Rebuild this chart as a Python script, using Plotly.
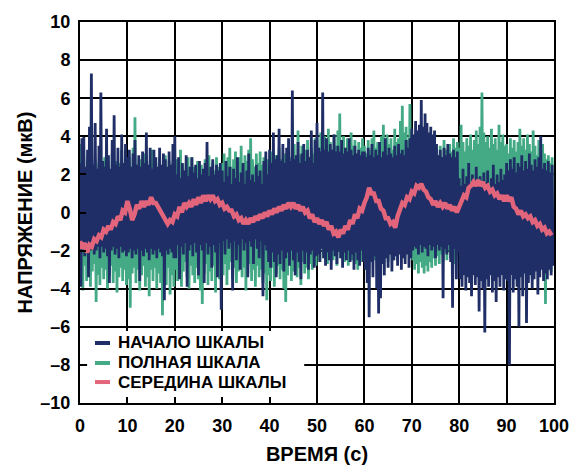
import numpy as np
import plotly.graph_objects as go

# ---------------- data ----------------
# НАЧАЛО ШКАЛЫ (zero scale), 500 samples, dt = 0.2 s (one row = 10 s)
zero_scale = [
    2.6, -3.9, 3.9, -1.9, 4.0, -2.3, 2.4, -1.8, 3.3, -3.4, 4.5, -2.0, 7.3, -1.9, 2.5, -2.2, 4.7, -2.0, 2.3, -1.8, 3.5, -2.4, 6.3, -1.8, 2.7, -2.1, 2.4, -1.9, 4.4, -2.3, 3.0, -3.7, 2.3, -2.0, 3.8, -1.8, 5.1, -2.2, 2.5, -1.9, 3.4, -2.4, 2.4, -1.8, 4.1, -2.1, 2.6, -2.0, 3.6, -2.3,
    2.9, -2.1, 3.3, -1.9, 2.4, -2.4, 3.1, -2.0, 3.8, -2.2, 2.5, -1.9, 3.0, -3.6, 2.4, -2.0, 3.2, -2.3, 2.6, -1.9, 4.2, -2.1, 2.5, -2.5, 3.4, -1.9, 2.3, -2.2, 3.3, -2.0, 2.9, -2.4, 2.4, -1.9, 3.4, -2.1, 2.5, -2.3, 3.1, -4.6, 2.8, -2.0, 2.4, -2.2, 3.2, -1.9, 2.5, -2.1, 3.6, -2.4,
    4.0, -2.4, 2.0, -1.7, 2.9, -3.5, 1.8, -1.8, 2.6, -2.2, 2.2, -1.6, 3.0, -3.9, 1.9, -2.0, 2.4, -1.7, 2.9, -2.3, 2.1, -1.6, 2.5, -2.1, 1.8, -3.3, 2.7, -1.7, 2.0, -2.0, 2.3, -3.7, 2.6, -1.6, 3.7, -2.2, 1.9, -1.8, 2.4, -2.9, 2.8, -1.7, 2.0, -2.1, 2.5, -3.4, 2.2, -1.6, 2.6, -5.1,
    2.2, -1.5, 1.6, -2.2, 2.7, -1.4, 1.9, -1.9, 2.4, -1.6, 1.5, -4.1, 2.3, -1.5, 1.8, -2.5, 2.9, -1.7, 1.6, -3.0, 2.1, -1.4, 2.6, -2.0, 1.5, -1.6, 2.2, -3.4, 3.1, -1.5, 1.7, -1.8, 2.0, -2.7, 1.6, -1.4, 2.5, -1.9, 1.9, -2.4, 2.2, -1.5, 1.5, -4.4, 2.7, -1.7, 3.2, -2.0, 2.0, -2.6,
    3.3, -2.9, 2.6, -2.1, 4.2, -2.6, 2.8, -3.4, 3.0, -2.2, 4.4, -2.7, 2.7, -2.0, 3.6, -3.1, 2.6, -2.4, 3.4, -2.1, 3.9, -2.8, 2.7, -2.0, 6.4, -2.5, 2.8, -3.3, 3.0, -2.1, 3.7, -2.6, 2.6, -3.5, 3.1, -2.0, 3.6, -2.7, 2.7, -2.1, 3.3, -3.0, 2.9, -2.2, 4.3, -2.0, 2.6, -2.9, 3.8, -2.3,
    4.7, -2.2, 3.4, -2.6, 3.2, -1.9, 6.3, -2.4, 3.3, -2.8, 3.9, -2.1, 3.2, -2.5, 3.6, -3.0, 3.3, -2.0, 4.1, -2.3, 3.2, -2.7, 3.5, -2.0, 3.2, -2.4, 3.8, -2.9, 3.1, -2.1, 3.4, -2.5, 3.2, -2.0, 3.9, -2.6, 3.3, -2.2, 3.0, -3.0, 3.5, -2.1, 3.1, -2.5, 3.3, -2.8, 3.0, -2.0, 3.2, -2.6,
    3.2, -3.0, 2.9, -3.7, 3.4, -5.5, 3.0, -2.6, 3.6, -3.4, 2.9, -2.3, 3.3, -4.0, 3.0, -5.3, 3.7, -4.5, 2.9, -2.7, 3.2, -3.3, 3.9, -2.4, 3.0, -2.9, 3.4, -2.2, 3.1, -3.1, 2.9, -2.5, 3.5, -2.3, 3.0, -2.8, 3.6, -2.2, 3.1, -3.0, 3.3, -2.4, 3.0, -2.7, 3.8, -2.2, 3.4, -2.9, 3.9, -2.4,
    4.4, -2.0, 4.1, -1.8, 4.8, -1.9, 4.3, -2.2, 4.6, -1.7, 5.9, -2.1, 4.5, -1.8, 5.2, -1.9, 4.7, -2.3, 4.2, -1.7, 4.5, -2.0, 4.1, -1.8, 4.3, -2.4, 3.6, -1.7, 3.0, -2.0, 3.3, -1.8, 2.9, -4.5, 3.4, -1.9, 3.0, -2.2, 3.6, -1.7, 3.1, -2.6, 2.9, -5.0, 3.3, -1.9, 2.9, -3.5, 3.2, -2.1,
    1.8, -3.5, 1.4, -3.9, 2.3, -3.3, 1.5, -4.1, 1.9, -3.4, 2.6, -3.7, 1.4, -4.4, 2.0, -3.3, 1.6, -3.8, 2.4, -3.4, 1.5, -5.2, 1.9, -3.6, 1.3, -4.0, 2.1, -6.3, 1.6, -3.5, 2.2, -3.9, 1.4, -3.3, 1.8, -4.2, 2.5, -3.6, 1.5, -4.7, 2.0, -3.4, 1.6, -3.9, 2.3, -3.3, 1.7, -4.1, 2.0, -3.5,
    2.6, -3.6, 2.2, -8.0, 2.8, -3.3, 2.3, -4.2, 2.9, -3.5, 2.1, -3.9, 2.6, -6.0, 2.4, -3.4, 3.0, -4.4, 2.2, -3.2, 2.7, -5.8, 2.3, -3.7, 3.1, -3.3, 2.5, -4.0, 2.2, -3.5, 2.8, -3.1, 2.4, -4.3, 2.9, -3.4, 4.0, -3.0, 2.3, -3.6, 2.6, -3.2, 2.2, -3.5, 2.7, -3.0, 2.1, -3.3, 2.5, -2.8,
]

# ПОЛНАЯ ШКАЛА (full scale), 500 samples, dt = 0.2 s (one row = 10 s)
full_scale = [
    3.6, -3.2, 2.4, -4.1, 3.0, -2.8, 2.2, -3.6, 2.7, -2.9, 1.9, -3.9, 2.5, -3.1, 2.0, -2.7, 2.8, -4.7, 2.1, -3.3, 2.6, -3.8, 1.8, -2.9, 2.4, -3.5, 2.9, -3.0, 2.0, -4.0, 2.5, -3.3, 1.9, -2.8, 3.1, -3.7, 2.2, -3.1, 2.7, -4.2, 2.0, -3.4, 2.6, -2.9, 3.3, -3.6, 2.1, -3.0, 2.8, -3.8,
    2.3, -3.5, 2.9, -5.0, 2.2, -3.2, 3.4, -2.9, 5.0, -3.7, 2.5, -3.0, 2.0, -4.1, 2.8, -3.3, 2.2, -2.8, 3.1, -3.9, 2.4, -3.4, 2.0, -4.4, 2.7, -3.0, 3.3, -3.6, 2.1, -2.9, 2.6, -4.0, 2.2, -3.2, 2.9, -3.7, 2.0, -5.4, 2.5, -3.1, 3.0, -3.8, 2.3, -2.9, 2.7, -4.3, 2.1, -3.3, 2.6, -3.9,
    2.4, -3.0, 2.8, -3.6, 2.2, -2.7, 3.3, -3.9, 2.5, -3.1, 2.0, -2.6, 2.6, -3.4, 2.9, -4.0, 2.1, -2.8, 2.9, -3.3, 2.4, -3.7, 1.9, -2.9, 2.7, -3.5, 2.2, -4.1, 2.5, -4.8, 2.0, -3.2, 2.8, -2.7, 2.3, -3.8, 3.0, -3.1, 2.1, -3.6, 2.6, -2.8, 2.2, -4.2, 2.9, -3.0, 2.4, -3.5, 2.0, -2.9,
    2.6, -3.3, 3.1, -2.7, 2.2, -3.8, 2.9, -3.0, 3.4, -2.6, 2.4, -3.5, 2.8, -2.9, 3.2, -3.7, 2.3, -3.1, 2.9, -2.8, 3.5, -3.4, 2.5, -2.9, 3.0, -4.1, 2.7, -3.2, 3.3, -2.7, 3.9, -3.6, 2.8, -3.0, 2.4, -3.9, 3.1, -2.8, 2.6, -3.4, 3.2, -3.0, 2.5, -3.7, 2.9, -3.2, 2.3, -4.6, 2.8, -3.3,
    2.7, -3.6, 3.2, -2.9, 2.4, -3.9, 3.0, -3.2, 2.6, -2.8, 3.4, -3.5, 2.8, -3.0, 2.3, -4.0, 3.1, -4.7, 2.6, -3.3, 3.3, -2.7, 2.9, -3.6, 2.5, -3.1, 3.6, -2.8, 2.8, -3.4, 4.3, -2.9, 3.0, -3.8, 3.5, -2.6, 2.7, -3.2, 3.3, -2.9, 3.8, -3.5, 2.9, -2.7, 3.4, -3.0, 3.1, -2.4, 3.9, -2.8,
    3.9, -2.1, 3.4, -2.6, 4.2, -1.9, 3.6, -2.4, 4.0, -2.0, 3.3, -2.7, 4.4, -2.2, 3.7, -1.8, 3.2, -2.5, 4.1, -2.1, 3.5, -2.8, 4.3, -2.0, 5.2, -2.4, 3.6, -1.9, 4.0, -2.6, 3.4, -2.2, 3.9, -2.8, 3.2, -2.0, 4.2, -2.5, 3.5, -2.3, 3.8, -2.7, 3.1, -3.0, 3.7, -2.1, 3.4, -2.6, 3.9, -2.2,
    3.5, -2.4, 3.1, -2.8, 3.8, -2.2, 3.3, -2.6, 3.9, -2.0, 4.3, -2.5, 3.4, -2.1, 3.7, -2.7, 3.2, -2.3, 4.0, -1.9, 4.6, -2.4, 3.5, -2.0, 4.1, -2.6, 3.6, -2.2, 3.9, -1.8, 3.3, -2.5, 4.4, -2.1, 3.7, -2.5, 3.9, -2.0, 4.8, -1.7, 5.6, -2.2, 4.2, -1.6, 4.5, -2.0, 3.8, -1.5, 5.7, -1.9,
    3.8, -2.5, 3.2, -3.0, 4.0, -2.7, 3.5, -3.2, 3.9, -2.6, 3.3, -2.9, 4.2, -3.2, 3.6, -2.8, 3.1, -3.1, 3.7, -2.6, 3.4, -2.9, 3.9, -2.4, 3.2, -2.8, 3.6, -2.3, 3.0, -2.7, 3.5, -2.2, 2.9, -2.6, 3.8, -2.1, 3.3, -2.5, 3.0, -2.0, 3.6, -2.4, 3.2, -2.1, 3.9, -2.7, 3.4, -2.2, 3.7, -1.9,
    3.4, -1.2, 4.6, -0.8, 3.7, -1.5, 3.2, -1.0, 3.9, -1.8, 3.5, -0.9, 4.1, -1.4, 3.3, -2.4, 3.8, -1.1, 4.3, -1.6, 3.6, -0.7, 4.5, -1.3, 6.3, -1.0, 4.2, -1.7, 3.7, -1.2, 4.0, -0.9, 3.4, -1.5, 4.4, -1.1, 3.6, -1.8, 3.9, -0.8, 3.3, -1.4, 4.6, -1.0, 3.7, -1.6, 4.1, -1.2, 3.5, -1.9,
    3.6, -1.4, 3.1, -2.0, 3.9, -1.1, 3.4, -1.7, 3.8, -1.3, 3.2, -2.2, 3.7, -1.5, 4.4, -1.0, 3.5, -1.8, 3.9, -1.2, 3.3, -2.4, 4.1, -1.6, 3.6, -2.1, 3.2, -3.5, 4.3, -1.4, 3.5, -2.6, 3.0, -1.9, 3.8, -2.8, 3.3, -2.2, 3.6, -3.0, 3.1, -4.8, 2.8, -2.5, 3.0, -2.0, 2.6, -3.1, 2.9, -2.4,
]

# СЕРЕДИНА ШКАЛЫ (mid scale), 200 samples, dt = 0.5 s (one row = 10 s)
mid_scale = [
    -1.5, -1.9, -1.6, -2.1, -1.7, -1.8, -1.4, -1.5, -1.2, -1.3, -0.9, -1.0, -0.7, -0.9, -0.5, -0.6, -0.2, -0.4, 0.1, 0.0,
    0.6, 0.2, -0.4, -0.1, 0.4, 0.2, 0.6, 0.3, 0.6, 0.4, 0.8, 0.5, 0.5, 0.3, 0.1, -0.2, -0.3, -0.6, -0.4, -0.5,
    -0.1, -0.2, 0.3, 0.0, 0.5, 0.3, 0.5, 0.3, 0.7, 0.4, 0.8, 0.5, 0.9, 0.6, 0.9, 0.7, 0.9, 0.6, 0.7, 0.4,
    0.5, 0.2, 0.3, 0.1, 0.1, -0.2, -0.1, -0.4, -0.3, -0.6, -0.4, -0.6, -0.3, -0.5, -0.2, -0.4, -0.1, -0.3, 0.0, -0.2,
    0.1, -0.1, 0.2, 0.0, 0.3, 0.1, 0.4, 0.2, 0.5, 0.3, 0.5, 0.2, 0.4, 0.1, 0.3, 0.0, 0.1, -0.3, -0.1, -0.5,
    -0.3, -0.6, -0.4, -0.7, -0.5, -0.9, -0.7, -1.1, -1.0, -1.3, -0.9, -1.1, -0.7, -0.9, -0.4, -0.6, -0.1, -0.3, 0.2, 0.1,
    0.5, 0.8, 1.3, 1.0, 1.0, 0.6, 0.6, 0.2, 0.1, -0.3, -0.3, -0.6, -0.5, -0.8, -0.2, 0.1, 0.5, 0.4, 0.8, 0.7,
    1.1, 1.0, 1.4, 1.3, 1.5, 1.2, 1.1, 0.8, 0.7, 0.4, 0.6, 0.3, 0.5, 0.3, 0.5, 0.2, 0.4, 0.1, 0.3, 0.0,
    0.3, 0.5, 0.9, 0.8, 1.3, 1.4, 1.6, 1.4, 1.7, 1.4, 1.6, 1.3, 1.4, 1.1, 1.2, 0.9, 1.0, 0.7, 0.9, 0.6,
    0.9, 0.6, 0.8, 0.3, 0.2, -0.1, 0.1, -0.2, -0.1, -0.3, -0.2, -0.5, -0.4, -0.7, -0.6, -0.9, -0.8, -1.1, -1.0, -1.2,
]

noisy_dt = 0.2
mid_dt = 0.5

x_ticks = [0, 10, 20, 30, 40, 50, 60, 70, 80, 90, 100]
x_tick_text = ["0", "10", "20", "30", "40", "50", "60", "70", "80", "90", "100"]
y_ticks = [-10, -8, -6, -4, -2, 0, 2, 4, 6, 8, 10]
y_tick_text = ["–10", "–8", "–6", "–4", "–2", "0", "2", "4", "6", "8", "10"]

names = ["НАЧАЛО ШКАЛЫ", "ПОЛНАЯ ШКАЛА", "СЕРЕДИНА ШКАЛЫ"]
colors = ["#1f2e66", "#44aa86", "#e2657b"]
x_title = "ВРЕМЯ (с)"
y_title = "НАПРЯЖЕНИЕ (мкВ)"


def bold(s):
    return "<b>" + s + "</b>"


# ---------------- figure ----------------
t_zero = np.arange(len(zero_scale)) * noisy_dt
t_full = np.arange(len(full_scale)) * noisy_dt
t_mid = np.arange(len(mid_scale)) * mid_dt

FONT = "Liberation Sans"

fig = go.Figure()
fig.add_trace(go.Scatter(x=t_full, y=full_scale, mode="lines", name=names[1],
                         line=dict(color=colors[1], width=2.8), showlegend=False))
fig.add_trace(go.Scatter(x=t_zero, y=zero_scale, mode="lines", name=names[0],
                         line=dict(color=colors[0], width=2.8), showlegend=False))
fig.add_trace(go.Scatter(x=t_mid, y=mid_scale, mode="lines", name=names[2],
                         line=dict(color=colors[2], width=4.5), showlegend=False))

axis_common = dict(
    showline=True, linecolor="black", linewidth=2, mirror=True,
    showgrid=True, gridcolor="black", gridwidth=2,
    ticks="inside", ticklen=6, tickwidth=2, tickcolor="black",
    zeroline=False, automargin=False,
    tickfont=dict(family=FONT, size=18, color="black"),
)

fig.update_xaxes(range=[0, 100], tickvals=x_ticks, ticktext=[bold(s) for s in x_tick_text],
                 ticklabelstandoff=5, **axis_common,
                 title=dict(text=bold(x_title), font=dict(family=FONT, size=20, color="black"),
                            standoff=12))
fig.update_yaxes(range=[-10, 10], tickvals=y_ticks, ticktext=[bold(s) for s in y_tick_text],
                 ticklabelstandoff=4, **axis_common,
                 title=dict(text=bold(y_title), font=dict(family=FONT, size=20, color="black"),
                            standoff=2))

# legend panel (white box over the grid, as in the reference), in paper units
legend_box = dict(x0=0.015, x1=0.473, y0=0.016, y1=0.189)
legend_rows_y = [0.1575, 0.105, 0.055]
legend_line_x = (0.0316, 0.0633)
legend_text_x = 0.076

shapes = [dict(type="rect", xref="paper", yref="paper", layer="above",
               fillcolor="white", line=dict(width=0), **legend_box)]
annotations = []
for name, color, yy in zip(names, colors, legend_rows_y):
    shapes.append(dict(type="line", xref="paper", yref="paper", layer="above",
                       x0=legend_line_x[0], x1=legend_line_x[1], y0=yy, y1=yy,
                       line=dict(color=color, width=4)))
    annotations.append(dict(xref="paper", yref="paper", x=legend_text_x, y=yy,
                            xanchor="left", yanchor="middle", showarrow=False,
                            text=bold(name), font=dict(family=FONT, size=17, color="black")))

fig.update_layout(
    width=574, height=465,
    margin=dict(l=80, r=20, t=22, b=62),
    paper_bgcolor="white", plot_bgcolor="white",
    showlegend=False,
    shapes=shapes, annotations=annotations,
)

# the page body has an 8px default margin; remove it so the figure fills the window
fig.write_html("out.html", config={"displayModeBar": False},
               post_script="document.body.style.margin='0';")
